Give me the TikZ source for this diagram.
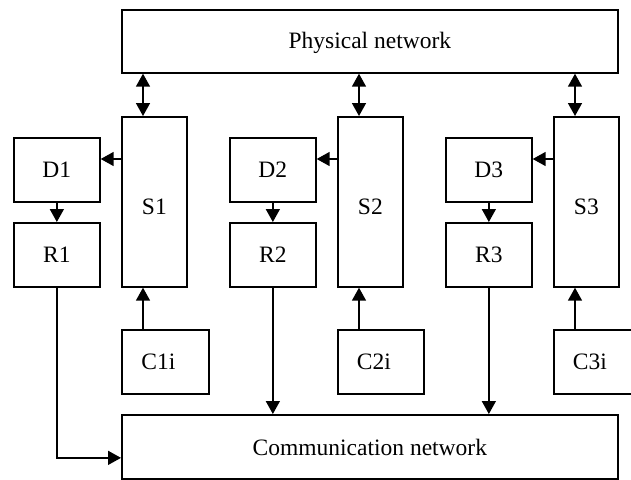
\documentclass[tikz,border=0pt]{standalone}
\usepackage{fontspec}
\setmainfont{Liberation Serif}
\usetikzlibrary{arrows.meta}
\begin{document}
\begin{tikzpicture}[x=1pt,y=-1pt,
  font=\fontsize{23.5}{28}\selectfont,
  tip/.tip={Triangle[length=13pt,width=14pt]},
  box/.style={draw=black, line width=1.7pt, inner sep=0pt, anchor=north west, minimum height=64pt},
  small/.style={box, minimum width=86pt},
  tall/.style={box, minimum width=65pt, minimum height=170pt},
  wide/.style={box, minimum width=496pt},
  conn/.style={line width=1.6pt, -tip},
  both/.style={line width=1.6pt, tip-tip}]
\useasboundingbox (0,0) rectangle (631,479);

% networks
\node[wide, minimum height=63pt, label={[anchor=base,yshift=-1.5pt]center:Physical network}] (phys) at (121,9) {};
\node[wide, label={[anchor=base,yshift=-1pt]center:Communication network}] (comm) at (121,414) {};

% subsystems
\node[tall, label={[yshift=-5pt]center:S1}] (S1) at (121,116) {};
\node[tall, label={[yshift=-5pt]center:S2}] (S2) at (337,116) {};
\node[tall, label={[yshift=-5pt]center:S3}] (S3) at (553,116) {};

\node[small] (D1) at (13,137) {D1};
\node[small] (D2) at (229,137) {D2};
\node[small] (D3) at (445,137) {D3};

\node[small] (R1) at (13,222) {R1};
\node[small] (R2) at (229,222) {R2};
\node[small] (R3) at (445,222) {R3};

\node[small, minimum width=87pt, label={[xshift=-7pt]center:C1i}] (C1) at (121,329) {};
\node[small, label={[xshift=-7pt]center:C2i}] (C2) at (337,329) {};
\node[small, label={[xshift=-7pt]center:C3i}] (C3) at (553,329) {};

% connectors
\foreach \i in {1,2,3} {
  \coordinate (sa\i) at ([xshift=22pt]S\i.north west);
  \coordinate (sd\i) at ([yshift=-22pt]D\i.north east);
  \draw[both] (sa\i) -- (sa\i |- phys.south);
  \draw[conn] (sd\i -| S\i.west) -- (sd\i);
  \draw[conn] (D\i) -- (R\i);
  \draw[conn] (sa\i |- C\i.north) -- (sa\i |- S\i.south);
}
\draw[conn] (R1.south) |- ([yshift=-11pt]comm.west);
\draw[conn] (R2.south) -- (R2.south |- comm.north);
\draw[conn] (R3.south) -- (R3.south |- comm.north);
\end{tikzpicture}
\end{document}
